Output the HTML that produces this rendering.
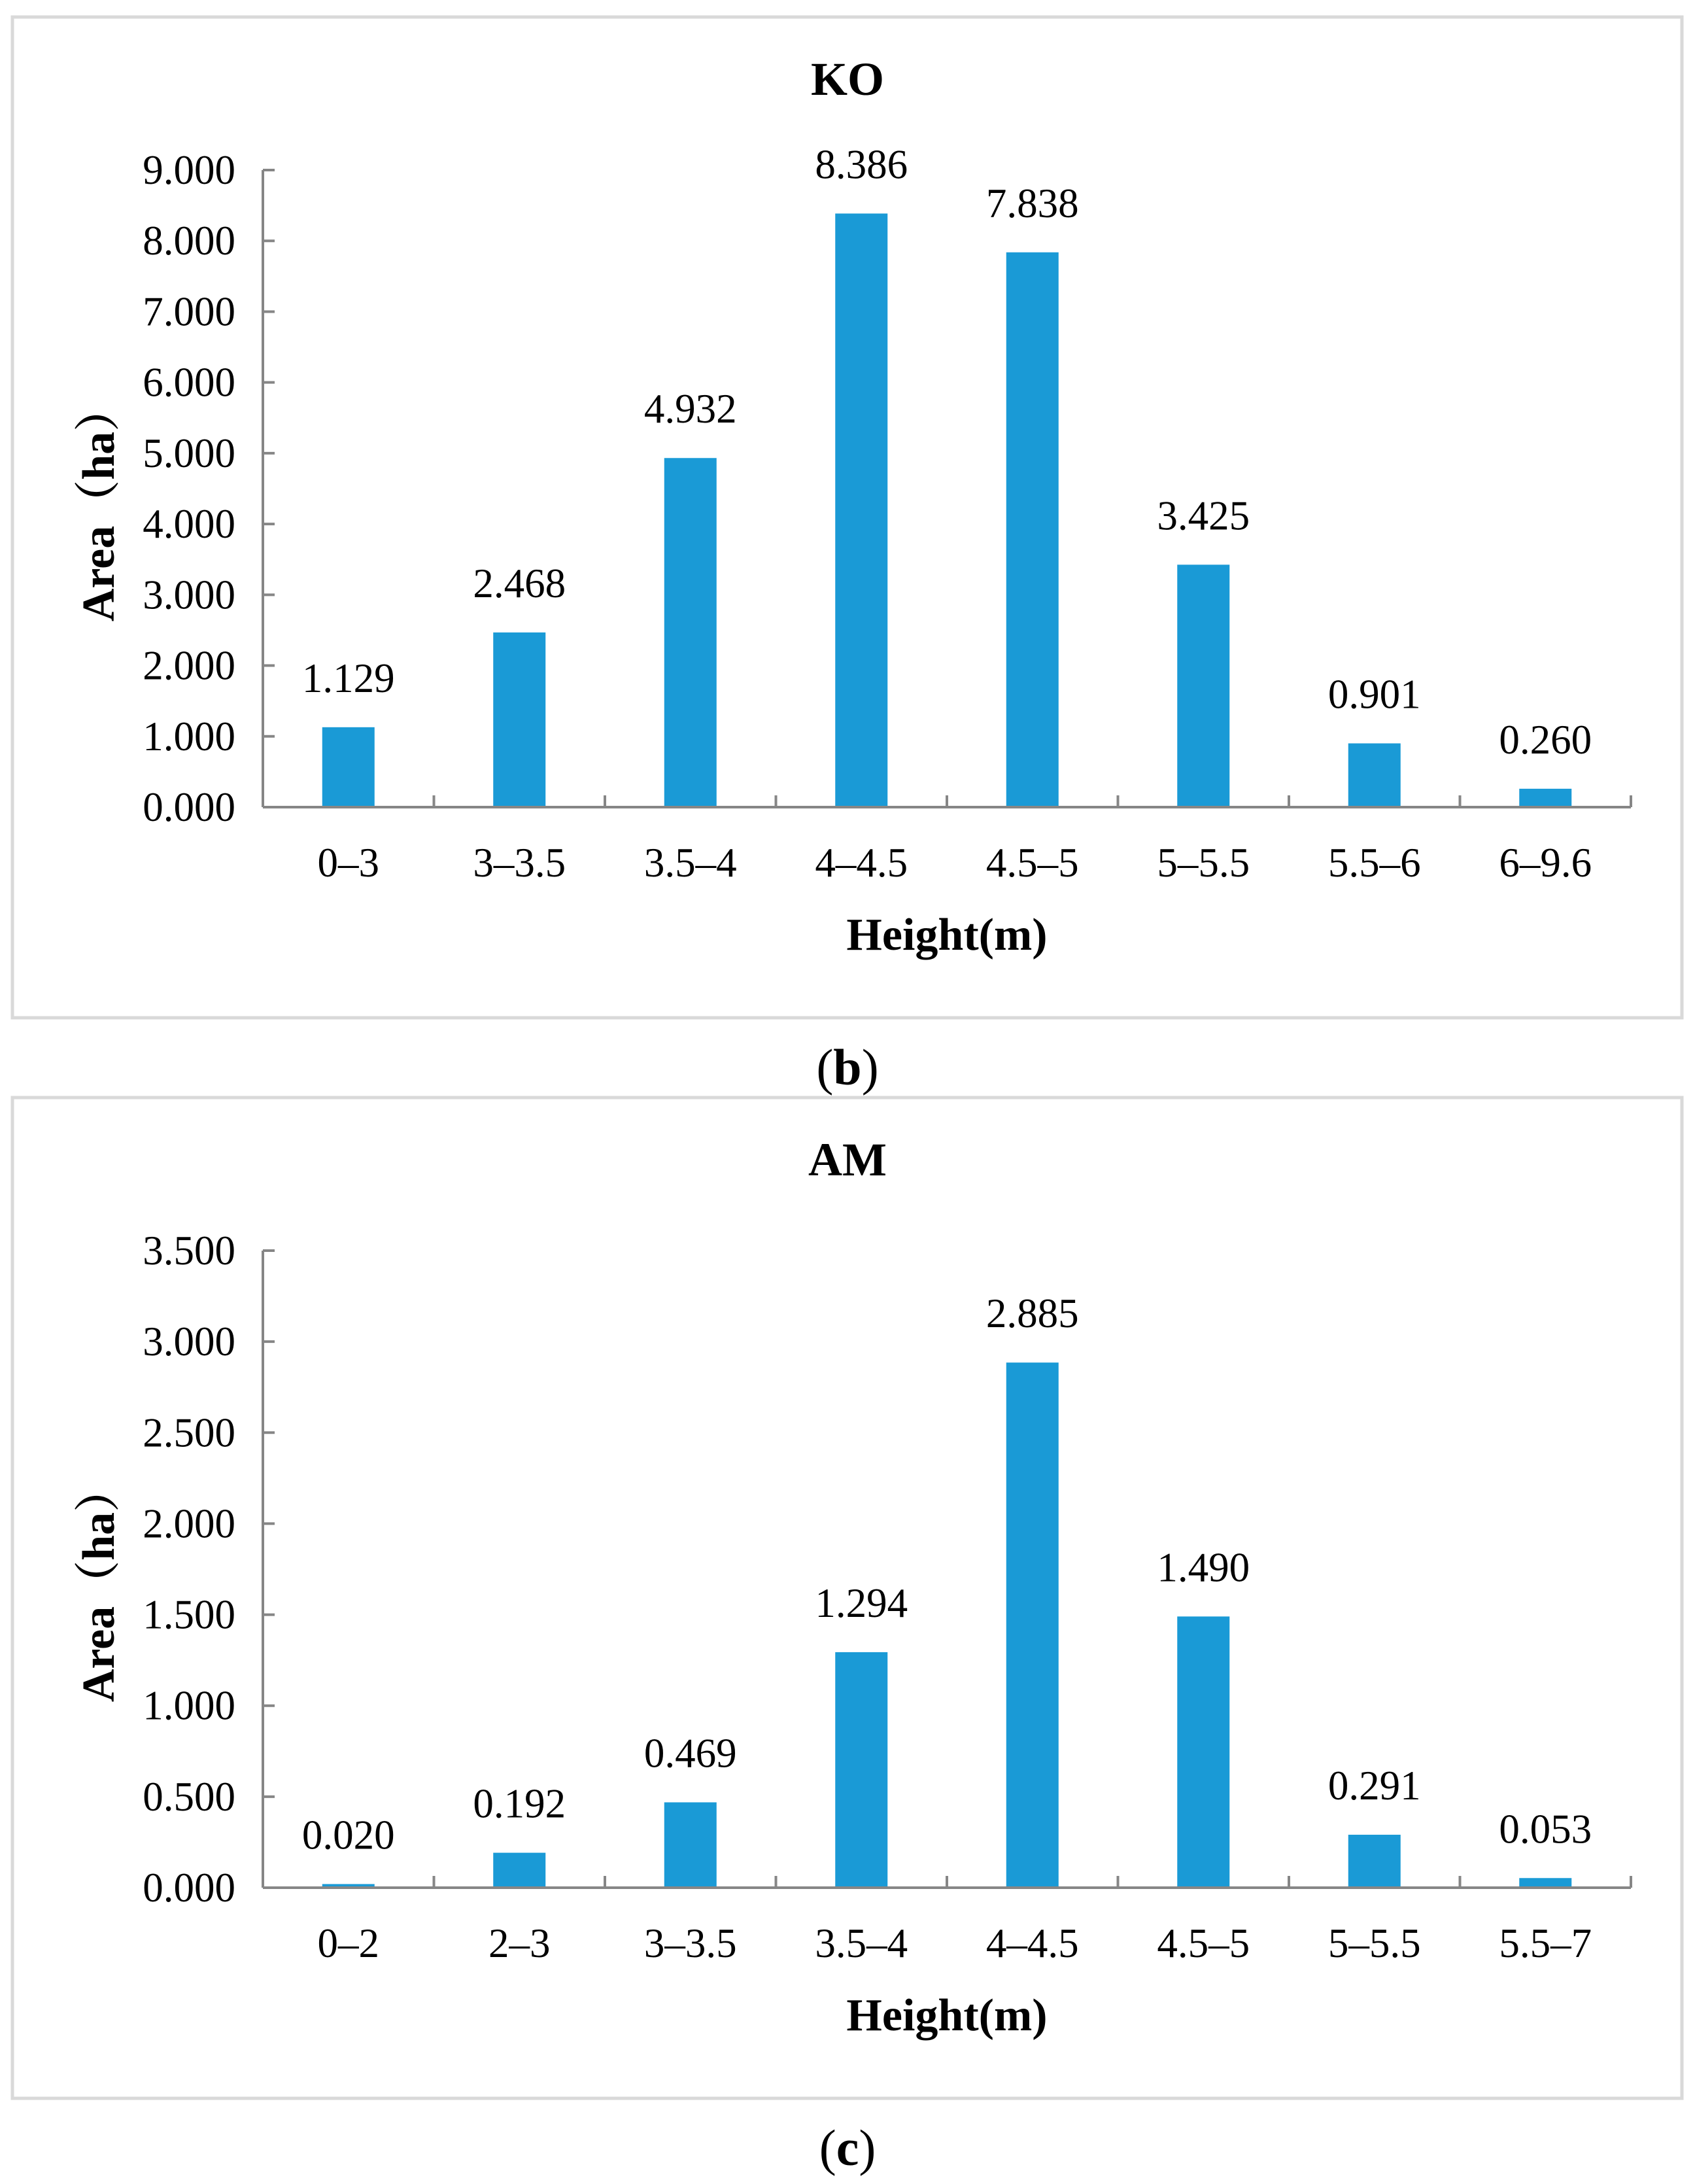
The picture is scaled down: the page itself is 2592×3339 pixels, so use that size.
<!DOCTYPE html>
<html><head><meta charset="utf-8"><style>
html,body{margin:0;padding:0;background:#fff;}
svg text{font-family:"Liberation Serif","Noto Serif CJK SC",serif;}
</style></head><body>
<svg width="2592" height="3334" viewBox="0 0 2592 3334" xmlns="http://www.w3.org/2000/svg">
<g id="root"></g>
</svg>
<script>
const koCategories = ["0–3","3–3.5","3.5–4","4–4.5","4.5–5","5–5.5","5.5–6","6–9.6"];
const koValues = [1.129,2.468,4.932,8.386,7.838,3.425,0.901,0.260];
const koTicks = [0,1,2,3,4,5,6,7,8,9];
const amCategories = ["0–2","2–3","3–3.5","3.5–4","4–4.5","4.5–5","5–5.5","5.5–7"];
const amValues = [0.020,0.192,0.469,1.294,2.885,1.490,0.291,0.053];
const amTicks = [0,0.5,1,1.5,2,2.5,3,3.5];

const NS="http://www.w3.org/2000/svg";
const root=document.getElementById('root');
function mk(tag,attrs,parent){const e=document.createElementNS(NS,tag);for(const k in attrs)e.setAttribute(k,attrs[k]);(parent||root).appendChild(e);return e;}

function panel(off, title, cats, vals, ticks, caption, key){
  const g=mk('g',{});
  
  
  const border=mk('rect',{x:19,y:off+26,width:2553,height:1530,fill:'#fff',stroke:'#d9d9d9','stroke-width':5},g);
  
  
  const t=mk('text',{x:1296,y:off+145,'text-anchor':'middle','font-size':72,'font-weight':'bold'},g);
  t.textContent=title;
  
  
  const x0=402,x1=2494,yb=off+1234,yt=off+260;
  const vmax=ticks[ticks.length-1];
  const y=v=>yb-(v/vmax)*(yb-yt);
  const bw=(x1-x0)/cats.length;
  const xc=i=>x0+bw*(i+0.5);
  vals.forEach((v,i)=>{
    const r=mk('rect',{x:xc(i)-40,y:y(v),width:80,height:yb-y(v),fill:'#1a9ad6'},g);
    
    
    const l=mk('text',{x:xc(i),y:y(v)-54,'text-anchor':'middle','font-size':63},g);
    l.textContent=v.toFixed(3);
    
    
    const c=mk('text',{x:xc(i),y:yb+106,'text-anchor':'middle','font-size':63},g);
    c.textContent=cats[i];
    
    
  });
  const ya=mk('line',{x1:x0,y1:yt,x2:x0,y2:yb,stroke:'#868686','stroke-width':4},g);
  
  
  const xa=mk('line',{x1:x0,y1:yb,x2:x1,y2:yb,stroke:'#868686','stroke-width':4},g);
  
  
  ticks.forEach((tv,i)=>{
    mk('line',{x1:x0,y1:y(tv),x2:x0+18,y2:y(tv),stroke:'#868686','stroke-width':4},g);
    const tl=mk('text',{x:x0-42,y:y(tv)+21,'text-anchor':'end','font-size':63},g);
    tl.textContent=tv.toFixed(3);
    
    
  });
  for(let i=1;i<=cats.length;i++){
    mk('line',{x1:x0+bw*i,y1:yb,x2:x0+bw*i,y2:yb-18,stroke:'#868686','stroke-width':4},g);
  }
  const xt=mk('text',{x:1448,y:yb+218,'text-anchor':'middle','font-size':70,'font-weight':'bold'},g);
  xt.textContent='Height(m)';
  
  
  const ytt=mk('text',{x:0,y:0,'text-anchor':'middle','font-size':70,'font-weight':'bold',transform:`translate(174 ${off+770}) rotate(-90)`},g);
  ytt.textContent='Area（ha）';
  
  
  const cap=mk('text',{x:1296,y:off+1658,'text-anchor':'middle','font-size':78},g);
  cap.innerHTML='(<tspan font-weight="bold">'+caption+'</tspan>)';
  
  
}
panel(0,'KO',koCategories,koValues,koTicks,'b','ko');
panel(1652,'AM',amCategories,amValues,amTicks,'c','am');
</script>
</body></html>
